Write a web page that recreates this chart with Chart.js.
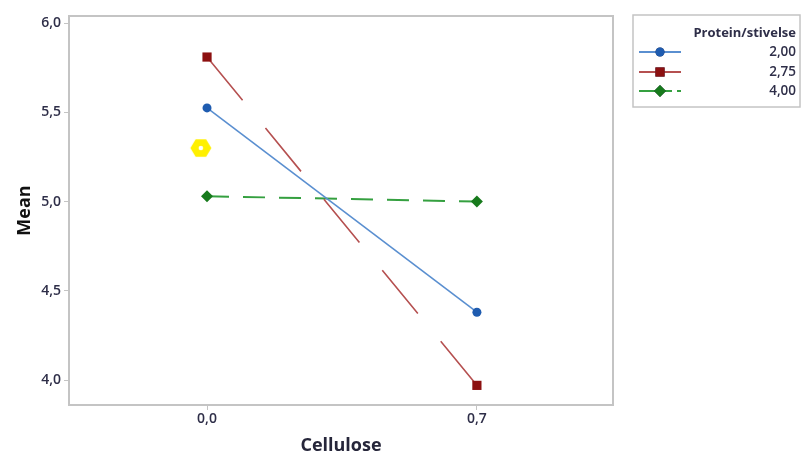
<!DOCTYPE html>
<html>
<head>
  <title>Interaction Plot - Mean</title>
  <script src="https://cdn.jsdelivr.net/npm/chart.js"></script>
  <style>
    html, body { margin: 0; padding: 0; background: #fff; }
    #wrap { width: 803px; height: 457px; }
  </style>
</head>
<body>
<div id="wrap">
  <canvas id="meanChart" width="803" height="457"></canvas>
</div>

<script>
  // Cellulose levels and mean response per Protein/stivelse ratio
  const cellulose = [0, 0.7];
  const ratioLabels = ['2,00', '2,75', '4,00'];
  const mean200 = [5.525, 4.38];
  const mean275 = [5.81, 3.97];
  const mean400 = [5.03, 5.00];
  const yTicks = [4.0, 4.5, 5.0, 5.5, 6.0];
  // highlighted point
  const markX = [-0.016];
  const markY = [5.30];

  const fmt = v => v.toFixed(1).replace('.', ',');
  const pts = (xs, ys) => xs.map((x, i) => ({x: x, y: ys[i]}));

  // yellow hexagon marker with a white centre
  const hex = document.createElement('canvas');
  hex.width = 24; hex.height = 24;
  (function () {
    const c = hex.getContext('2d');
    c.fillStyle = '#fff000';
    c.beginPath();
    for (let k = 0; k < 6; k++) {
      const a = Math.PI / 3 * k;
      const px = 12 + 10.5 * Math.cos(a), py = 12 + 10 * Math.sin(a);
      k ? c.lineTo(px, py) : c.moveTo(px, py);
    }
    c.closePath();
    c.fill();
    c.fillStyle = '#fff';
    c.beginPath();
    c.arc(12, 12, 2.3, 0, Math.PI * 2);
    c.fill();
  })();

  // grey frame round the plot area
  const frame = {
    id: 'frame',
    afterDraw(chart) {
      const a = chart.chartArea, ctx = chart.ctx;
      ctx.save();
      ctx.strokeStyle = '#c4c4c4';
      ctx.lineWidth = 2;
      ctx.strokeRect(a.left, a.top, a.right - a.left, a.bottom - a.top);
      ctx.restore();
    }
  };

  // legend box on the right, labels right aligned
  const sideLegend = {
    id: 'sideLegend',
    afterDraw(chart) {
      const ctx = chart.ctx;
      const bx = 633, by = 15, bw = 167, bh = 92;
      ctx.save();
      ctx.strokeStyle = '#c4c4c4';
      ctx.lineWidth = 1.5;
      ctx.strokeRect(bx, by, bw, bh);
      ctx.fillStyle = '#2e2e48';
      ctx.textAlign = 'right';
      ctx.textBaseline = 'middle';
      ctx.font = 'bold 13px "Open Sans", sans-serif';
      ctx.fillText('Protein/stivelse', 796, 33);
      ctx.font = '600 13.5px "Open Sans", sans-serif';
      const rows = [52, 72, 91];
      chart.data.datasets.slice(0, 3).forEach((ds, i) => {
        const y = rows[i];
        ctx.strokeStyle = ds.borderColor;
        ctx.lineWidth = 2;
        ctx.beginPath();
        if (i === 2) {
          ctx.moveTo(639, y); ctx.lineTo(672, y);
          ctx.moveTo(677, y); ctx.lineTo(681, y);
        } else {
          ctx.moveTo(639, y); ctx.lineTo(681, y);
        }
        ctx.stroke();
        Chart.helpers.drawPoint(ctx, {
          pointStyle: ds.pointStyle, radius: ds.pointRadius, borderWidth: 0
        }, 660, y);
        ctx.fillStyle = ds.pointBackgroundColor;
        ctx.fill();
        ctx.fillStyle = '#2e2e48';
        ctx.fillText(ratioLabels[i], 796, y);
      });
      ctx.restore();
    }
  };

  const tickFont = { family: '"Open Sans", sans-serif', size: 14, weight: '600' };
  const titleFont = { family: '"Open Sans", sans-serif', size: 18, weight: 'bold' };

  const ctx = document.getElementById('meanChart').getContext('2d');
  new Chart(ctx, {
    type: 'line',
    data: {
      datasets: [{
        label: ratioLabels[0],
        data: pts(cellulose, mean200),
        borderColor: '#5a8fd0',
        borderWidth: 1.6,
        pointStyle: 'circle',
        pointRadius: 4.5,
        pointBackgroundColor: '#1f5cb0',
        pointBorderWidth: 0
      }, {
        label: ratioLabels[1],
        data: pts(cellulose, mean275),
        borderColor: '#b55050',
        borderWidth: 1.6,
        borderDash: [56, 36],
        pointStyle: 'rect',
        pointRadius: 6.5,
        pointBackgroundColor: '#8c1010',
        pointBorderWidth: 0
      }, {
        label: ratioLabels[2],
        data: pts(cellulose, mean400),
        borderColor: '#35a040',
        borderWidth: 2,
        borderDash: [22, 14],
        pointStyle: 'rectRot',
        pointRadius: 6,
        pointBackgroundColor: '#177a1c',
        pointBorderWidth: 0
      }, {
        label: 'mark',
        data: pts(markX, markY),
        showLine: false,
        pointStyle: hex,
        pointBackgroundColor: '#fff000'
      }]
    },
    options: {
      responsive: false,
      animation: false,
      events: [],
      layout: { padding: { left: 0, right: 190, top: 16, bottom: 0 } },
      plugins: { legend: { display: false }, tooltip: { enabled: false } },
      scales: {
        x: {
          type: 'linear',
          min: -0.358,
          max: 1.053,
          afterBuildTicks: s => { s.ticks = cellulose.map(v => ({value: v})); },
          afterFit: s => { s.height = 52; },
          ticks: {
            callback: v => fmt(v),
            color: '#2e2e48',
            font: tickFont,
            padding: 1
          },
          grid: { drawOnChartArea: false, tickLength: 5, color: '#c4c4c4' },
          border: { color: '#c4c4c4', width: 2 },
          title: {
            display: true,
            text: 'Cellulose',
            color: '#26263a',
            font: titleFont,
            padding: { top: 0, bottom: 0 }
          }
        },
        y: {
          min: 3.86,
          max: 6.04,
          afterBuildTicks: s => { s.ticks = yTicks.map(v => ({value: v})); },
          afterFit: s => { s.width = 69; },
          ticks: {
            callback: v => fmt(v),
            color: '#2e2e48',
            font: tickFont,
            padding: 3
          },
          grid: { drawOnChartArea: false, tickLength: 5, color: '#c4c4c4' },
          border: { color: '#c4c4c4', width: 2 },
          title: {
            display: true,
            text: 'Mean',
            color: '#111',
            font: titleFont,
            padding: { top: 14, bottom: 0 }
          }
        }
      }
    },
    plugins: [frame, sideLegend]
  });
</script>
</body>
</html>
